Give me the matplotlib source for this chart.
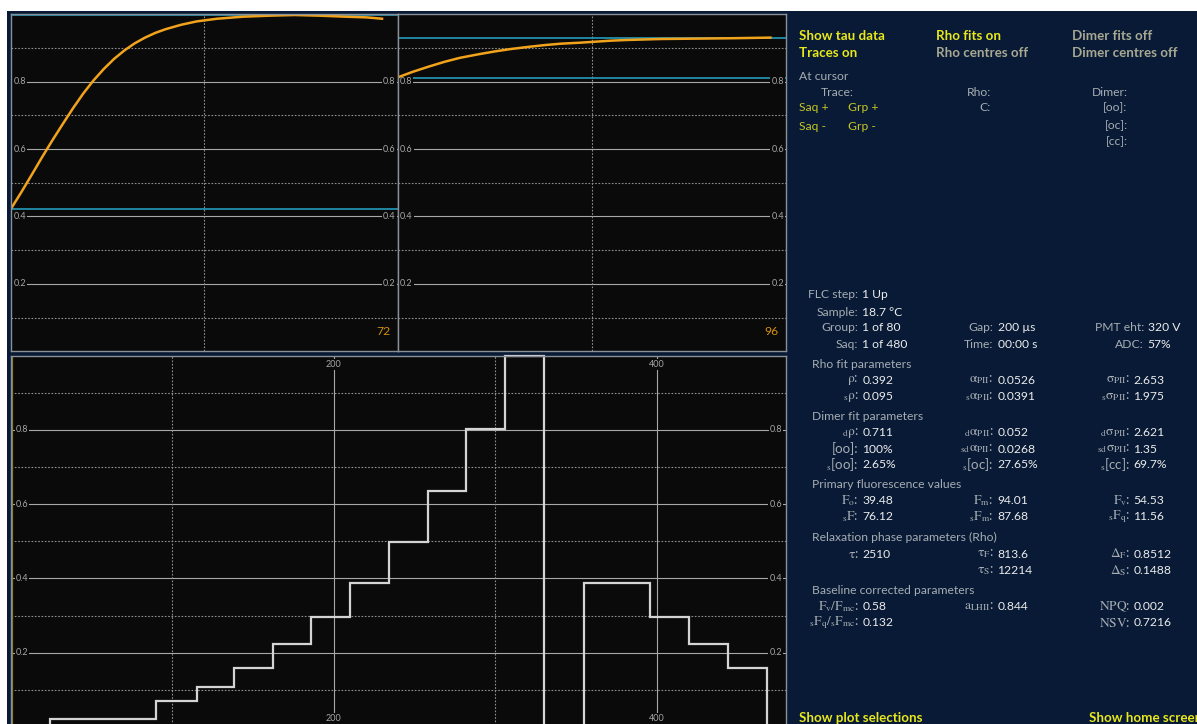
import matplotlib
matplotlib.use("Agg")
import matplotlib.pyplot as plt
from matplotlib.patches import Rectangle
from matplotlib.transforms import blended_transform_factory

plt.rcParams["font.family"] = ["Lato", "DejaVu Sans"]
plt.rcParams["mathtext.fontset"] = "stix"

W, H = 1197, 724

# ---------------- trace data ----------------
# Group trace, 72 points (rise to maximum fluorescence)
trace72_x = [0, 2, 4, 6, 8, 10, 12, 14, 16, 18, 20, 22, 24, 26, 28, 30, 33, 36, 40, 45,
             50, 55, 60, 65, 69, 72]
trace72_y = [0.423, 0.472, 0.523, 0.575, 0.625, 0.673, 0.720, 0.764, 0.803, 0.837, 0.867,
             0.892, 0.913, 0.930, 0.944, 0.955, 0.968, 0.978, 0.986, 0.992, 0.995, 0.997,
             0.995, 0.992, 0.990, 0.986]
fit72_levels = [0.421, 0.997]

# Relaxation trace, 96 points
trace96_x = [0, 4, 8, 12, 16, 21, 25, 29, 34, 38, 42, 47, 51, 55, 59, 68, 77, 85, 96]
trace96_y = [0.812, 0.829, 0.844, 0.858, 0.870, 0.881, 0.889, 0.896, 0.903, 0.908, 0.912,
             0.915, 0.918, 0.921, 0.923, 0.926, 0.927, 0.928, 0.930]
fit96_levels = [0.811, 0.930]

# Light-step protocol over 480 saqs
saq_edges = [0, 24, 90, 115, 138, 162, 186, 210, 234, 258, 282, 306, 330, 355, 396, 420, 444, 468, 480]
saq_levels = [-0.1, 0.021, 0.070, 0.107, 0.158, 0.223, 0.297, 0.388, 0.499, 0.636, 0.802, 1.0,
              -0.1, 0.388, 0.297, 0.223, 0.158, -0.1]

y_major = [0.2, 0.4, 0.6, 0.8]
y_minor = [0.1, 0.3, 0.5, 0.7, 0.9]
saq_major = [200, 400]
saq_minor = [100, 300]

# ---------------- status panel text ----------------
toggles = [("Show tau data", True), ("Rho fits on", True), ("Dimer fits off", False),
           ("Traces on", True), ("Rho centres off", False), ("Dimer centres off", False)]

acq_labels = ["FLC step:", "Sample:", "Group:", "Saq:"]
acq_values = ["1 Up", "18.7 °C", "1 of 80", "1 of 480"]
timing_labels = ["Gap:", "Time:"]
timing_values = ["200 µs", "00:00 s"]
detector_labels = ["PMT eht:", "ADC:"]
detector_values = ["320 V", "57%"]

rho_header = "Rho fit parameters"
rho_labels = [[r"$\mathrm{\rho}$:", r"$\mathrm{\alpha_{PII}}$:", r"$\mathrm{\sigma_{PII}}$:"],
              [r"$\mathrm{{}_{s}\rho}$:", r"$\mathrm{{}_{s}\alpha_{PII}}$:", r"$\mathrm{{}_{s}\sigma_{PII}}$:"]]
rho_values = [["0.392", "0.0526", "2.653"],
              ["0.095", "0.0391", "1.975"]]

dimer_header = "Dimer fit parameters"
dimer_labels = [[r"$\mathrm{{}_{d}\rho}$:", r"$\mathrm{{}_{d}\alpha_{PII}}$:", r"$\mathrm{{}_{d}\sigma_{PII}}$:"],
                ["[oo]:", r"$\mathrm{{}_{sd}\alpha_{PII}}$:", r"$\mathrm{{}_{sd}\sigma_{PII}}$:"],
                [r"${}_{\mathrm{s}}$[oo]:", r"${}_{\mathrm{s}}$[oc]:", r"${}_{\mathrm{s}}$[cc]:"]]
dimer_values = [["0.711", "0.052", "2.621"],
                ["100%", "0.0268", "1.35"],
                ["2.65%", "27.65%", "69.7%"]]

fluor_header = "Primary fluorescence values"
fluor_labels = [[r"$\mathrm{F_o}$:", r"$\mathrm{F_m}$:", r"$\mathrm{F_v}$:"],
                [r"$\mathrm{{}_sF}$:", r"$\mathrm{{}_sF_m}$:", r"$\mathrm{{}_sF_q}$:"]]
fluor_values = [["39.48", "94.01", "54.53"],
                ["76.12", "87.68", "11.56"]]

relax_header = "Relaxation phase parameters (Rho)"
relax_labels = [[r"$\mathrm{\tau}$:", r"$\mathrm{\tau_{F}}$:", r"$\mathrm{\Delta_{F}}$:"],
                ["", r"$\mathrm{\tau_{S}}$:", r"$\mathrm{\Delta_{S}}$:"]]
relax_values = [["2510", "813.6", "0.8512"],
                ["", "12214", "0.1488"]]

base_header = "Baseline corrected parameters"
base_labels = [[r"$\mathrm{F_v/F_{mc}}$:", r"$\mathrm{a_{LHII}}$:", r"$\mathrm{NPQ}$:"],
               [r"$\mathrm{{}_sF_q/{}_sF_{mc}}$:", "", r"$\mathrm{NSV}$:"]]
base_values = [["0.58", "0.844", "0.002"],
               ["0.132", "", "0.7216"]]

# ---------------- colours ----------------
NAVY = "#081a35"
PLOT_BG = "#0a0a0a"
SPINE = "#8a9098"
GRID = "#a8a8a8"
GRID_DOT = "#909090"
TICK_TXT = "#a6a6a6"
ORANGE = "#f2a31c"
CYAN = "#27a9cc"
STEP = "#d4d4d4"
YELLOW = "#e8e81c"
OFF = "#a9a993"
LABEL = "#a7adb3"
VALUE = "#ececec"
OLIVE_TXT = "#c6c623"

fig = plt.figure(figsize=(W / 100, H / 100), dpi=100, facecolor="white")
fig.patches.append(Rectangle((7 / W, 0), 1 - 7 / W, 1 - 11 / H, transform=fig.transFigure,
                             facecolor=NAVY, edgecolor="none", zorder=-10))


def px_axes(x0, y0, x1, y1):
    ax = fig.add_axes([x0 / W, 1 - y1 / H, (x1 - x0) / W, (y1 - y0) / H])
    ax.set_zorder(2)
    return ax


def style_panel(ax, xlim, vmajor, vminor):
    ax.set_facecolor(PLOT_BG)
    ax.set_xlim(*xlim)
    ax.set_ylim(0, 1.0)
    ax.set_xticks([])
    ax.set_yticks([])
    for s in ax.spines.values():
        s.set_color(SPINE)
        s.set_linewidth(1.0)
        s.set_zorder(6)
    for v in y_major:
        ax.axhline(v, color=GRID, lw=0.8, zorder=1)
    for v in y_minor:
        ax.axhline(v, color=GRID_DOT, lw=0.8, ls=(0, (1.5, 1.5)), zorder=1)
    for v in vmajor:
        ax.axvline(v, color=GRID, lw=0.8, zorder=1)
    for v in vminor:
        ax.axvline(v, color=GRID_DOT, lw=0.8, ls=(0, (1.5, 1.5)), zorder=1)
    tr = blended_transform_factory(ax.transAxes, ax.transData)
    bb = dict(boxstyle="square,pad=0.12", fc=PLOT_BG, ec="none")
    for v in y_major:
        ax.text(0.006, v, f"{v:.1f}", transform=tr, ha="left", va="center",
                fontsize=6.5, color=TICK_TXT, bbox=bb, zorder=3, clip_on=True)
        ax.text(0.995, v, f"{v:.1f}", transform=tr, ha="right", va="center",
                fontsize=6.5, color=TICK_TXT, bbox=bb, zorder=3, clip_on=True)


# top-left: 72 point trace
ax1 = px_axes(11, 14, 397.5, 351.5)
style_panel(ax1, (0, 75), [], [37.5])
for lv in fit72_levels:
    ax1.axhline(lv, color=CYAN, lw=1.1, zorder=2)
ax1.plot(trace72_x, trace72_y, color=ORANGE, lw=1.8, zorder=4, solid_joinstyle="round")
ax1.text(0.981, 0.06, str(trace72_x[-1]), transform=ax1.transAxes,
         ha="right", va="center", fontsize=8.8, color="#d48f10", zorder=5)

# top-right: 96 point trace
ax2 = px_axes(397.5, 14, 786, 351.5)
style_panel(ax2, (0, 100), [], [50])
for lv in fit96_levels:
    ax2.axhline(lv, color=CYAN, lw=1.1, zorder=2)
ax2.plot(trace96_x, trace96_y, color=ORANGE, lw=1.8, zorder=4, solid_joinstyle="round")
ax2.text(0.981, 0.06, str(trace96_x[-1]), transform=ax2.transAxes,
         ha="right", va="center", fontsize=8.8, color="#d48f10", zorder=5)

# bottom: protocol over all saqs
ax3 = px_axes(11, 355.5, 786, 727)
style_panel(ax3, (0, 480), saq_major, saq_minor)
ax3.axvline(0.9, color="#8c7d14", lw=1.6, zorder=5)
ax3.stairs(saq_levels, saq_edges, baseline=None, color=STEP, lw=1.6, zorder=4, clip_on=False)
trx = blended_transform_factory(ax3.transData, ax3.transAxes)
bb = dict(boxstyle="square,pad=0.12", fc=PLOT_BG, ec="none")
for v in saq_major:
    ax3.text(v, 0.976, str(v), transform=trx, ha="center", va="center",
             fontsize=6.5, color=TICK_TXT, bbox=bb, zorder=3)
    ax3.text(v, 0.022, str(v), transform=trx, ha="center", va="center",
             fontsize=6.5, color=TICK_TXT, bbox=bb, zorder=3)


# ---------------- status panel ----------------
def t(x, y, s, **kw):
    kw.setdefault("va", "center")
    fig.text(x / W, 1 - y / H, s, **kw)


BIG = 9.6
SMALL = 8.7
MATH = 9.6

tog_x = [799, 936, 1072.5]
tog_y = [36, 53.3]
for i, (txt, on) in enumerate(toggles):
    t(tog_x[i % 3], tog_y[i // 3], txt, fontsize=BIG, fontweight="bold",
      color=YELLOW if on else OFF)

t(799, 76, "At cursor", fontsize=SMALL, color=LABEL)
t(854, 92, "Trace:", fontsize=SMALL, color=LABEL, ha="right")
t(991, 92, "Rho:", fontsize=SMALL, color=LABEL, ha="right")
t(1127.5, 92, "Dimer:", fontsize=SMALL, color=LABEL, ha="right")
t(799, 107.5, "Saq +", fontsize=SMALL, color=OLIVE_TXT)
t(847.5, 107.5, "Grp +", fontsize=SMALL, color=OLIVE_TXT)
t(799, 127, "Saq -", fontsize=SMALL, color=OLIVE_TXT)
t(847.5, 127, "Grp -", fontsize=SMALL, color=OLIVE_TXT)
t(991, 107.5, "C:", fontsize=SMALL, color=LABEL, ha="right")
t(1127.5, 107.5, "[oo]:", fontsize=SMALL, color=LABEL, ha="right")
t(1127.5, 125.5, "[oc]:", fontsize=SMALL, color=LABEL, ha="right")
t(1127.5, 142, "[cc]:", fontsize=SMALL, color=LABEL, ha="right")

acq_y = [295, 312, 328, 344]
for lab, val, y in zip(acq_labels, acq_values, acq_y):
    t(858.5, y, lab, fontsize=SMALL, color=LABEL, ha="right")
    t(862.5, y, val, fontsize=SMALL, color=VALUE)
for lab, val, y in zip(timing_labels, timing_values, acq_y[2:]):
    t(993.5, y, lab, fontsize=SMALL, color=LABEL, ha="right")
    t(997.5, y, val, fontsize=SMALL, color=VALUE)
for lab, val, y in zip(detector_labels, detector_values, acq_y[2:]):
    t(1144, y, lab, fontsize=SMALL, color=LABEL, ha="right")
    t(1147.5, y, val, fontsize=SMALL, color=VALUE)

lab_x = [858.5, 993.5, 1130]
val_x = [862.5, 997.5, 1133.5]


def block(header, header_y, labels, values, rows_y):
    t(811.5, header_y, header, fontsize=SMALL, color=LABEL)
    for labs, vals, y in zip(labels, values, rows_y):
        for c in range(3):
            if labs[c]:
                t(lab_x[c], y, labs[c], fontsize=MATH, color=LABEL, ha="right")
            if vals[c]:
                t(val_x[c], y, vals[c], fontsize=SMALL, color=VALUE)


block(rho_header, 364, rho_labels, rho_values, [380, 396.5])
block(dimer_header, 416, dimer_labels, dimer_values, [433, 449, 465])
block(fluor_header, 485, fluor_labels, fluor_values, [501, 517])
block(relax_header, 537, relax_labels, relax_values, [554, 570.5])
block(base_header, 590, base_labels, base_values, [606.5, 622.5])

t(799, 718, "Show plot selections", fontsize=BIG, fontweight="bold", color=YELLOW)
t(1089, 718, "Show home screen", fontsize=BIG, fontweight="bold", color=YELLOW)

fig.savefig("out.png", dpi=100, facecolor="white")
